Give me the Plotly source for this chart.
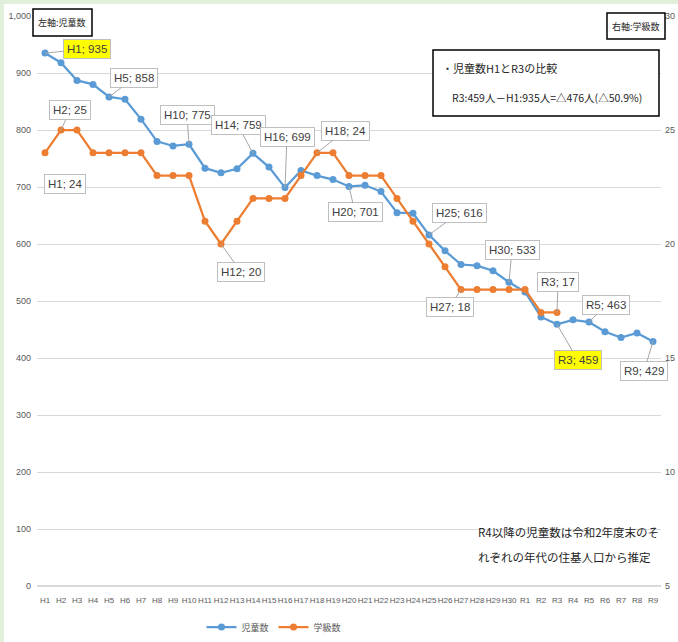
import plotly.graph_objects as go

# %% data
years = [f"H{i}" for i in range(1, 31)] + [f"R{i}" for i in range(1, 10)]

jido = [935, 918, 887, 880, 858, 854, 819, 780, 772, 775,
        733, 725, 732, 759, 735, 699, 729, 720, 713, 701,
        703, 692, 655, 654, 616, 588, 564, 562, 553, 533,
        516, 472, 459, 467, 463, 446, 436, 444, 429]

gakkyu = [24, 25, 25, 24, 24, 24, 24, 23, 23, 23,
          21, 20, 21, 22, 22, 22, 23, 24, 24, 23,
          23, 23, 22, 21, 20, 19, 18, 18, 18, 18,
          18, 17, 17]

jido_labels = ["H1", "H5", "H10", "H14", "H16", "H20", "H25", "H30", "R3", "R5", "R9"]
gakkyu_labels = ["H1", "H2", "H12", "H18", "H27", "R3"]

BLUE = "#5B9BD5"
ORANGE = "#ED7D31"
GRAY = "#595959"
FONT = "Liberation Sans, Noto Sans CJK JP"
JP = "Noto Sans CJK JP"

# plot area in pixels (for placing boxes)
L, R, T, B = 37, 661, 16, 586
def px(x):
    return (x - L) / (R - L)
def py(y):
    return (B - y) / (B - T)

fig = go.Figure()
fig.add_trace(go.Scatter(x=years, y=jido, name="児童数", mode="lines+markers",
                         line=dict(color=BLUE, width=2.25), marker=dict(size=7, color=BLUE)))
fig.add_trace(go.Scatter(x=years[:len(gakkyu)], y=gakkyu, name="学級数", mode="lines+markers",
                         yaxis="y2", line=dict(color=ORANGE, width=2.25),
                         marker=dict(size=7, color=ORANGE)))

# callout offsets (pixels) for the data labels
offs_j = {"H1": (42, -4), "H5": (25, -19), "H10": (-2, -29), "H14": (-15, -28),
          "H16": (2, -51), "H20": (6, 26), "H25": (30, -22), "H30": (3, -32),
          "R3": (21, 36), "R5": (17, -17), "R9": (-9, 30)}
offs_g = {"H1": (20, 31), "H2": (9, -20), "H12": (20, 28), "H18": (28, -22),
          "H27": (-11, 17), "R3": (1, -30)}
yellow = {"H1", "R3"}

ann = []
for k in jido_labels:
    v = jido[years.index(k)]
    ax, ay = offs_j[k]
    ann.append(dict(x=k, y=v, xref="x", yref="y", text=f"{k}; {v}", ax=ax, ay=ay,
                    showarrow=True, arrowhead=0, arrowwidth=1, arrowcolor="#a6a6a6",
                    bgcolor="#FFFF00" if k in yellow else "white",
                    bordercolor="#bfbfbf", borderwidth=1, borderpad=3,
                    font=dict(family=FONT, size=11.5, color="#404040")))
for k in gakkyu_labels:
    v = gakkyu[years.index(k)]
    ax, ay = offs_g[k]
    ann.append(dict(x=k, y=v, xref="x", yref="y2", text=f"{k}; {v}", ax=ax, ay=ay,
                    showarrow=True, arrowhead=0, arrowwidth=1, arrowcolor="#a6a6a6",
                    bgcolor="white", bordercolor="#bfbfbf", borderwidth=1, borderpad=3,
                    font=dict(family=FONT, size=11.5, color="#404040")))

# text boxes
def txt(x, y, s, size, anchor="left"):
    ann.append(dict(x=px(x), y=py(y), xref="paper", yref="paper", text=s, showarrow=False,
                    xanchor=anchor, yanchor="middle", font=dict(family=JP, size=size, color="#262626")))

txt(62, 22, "左軸:児童数", 9, "center")
txt(636, 26, "右軸:学級数", 9, "center")
txt(440, 68, "・児童数H1とR3の比較", 11)
txt(450, 97, "R3:459人－H1:935人=△476人(△50.9%)", 10.5)
txt(476, 532, "R4以降の児童数は令和2年度末のそ", 11.5)
txt(476, 557, "れぞれの年代の住基人口から推定", 11.5)

shapes = [
    dict(type="rect", xref="paper", yref="paper", x0=px(4), x1=px(680), y0=py(645), y1=py(4),
         fillcolor="white", line_width=0, layer="below"),
    dict(type="rect", xref="paper", yref="paper", x0=px(33), x1=px(92), y0=py(36), y1=py(9),
         line=dict(color="black", width=1.5), fillcolor="white"),
    dict(type="rect", xref="paper", yref="paper", x0=px(607), x1=px(665), y0=py(39), y1=py(13),
         line=dict(color="black", width=1.5), fillcolor="white"),
    dict(type="rect", xref="paper", yref="paper", x0=px(433), x1=px(659), y0=py(116), y1=py(50),
         line=dict(color="black", width=1.5), fillcolor="white"),
]

fig.update_layout(
    width=678, height=642,
    margin=dict(l=L, r=678 - R, t=T, b=642 - B, autoexpand=False),
    paper_bgcolor="#E2EFDA", plot_bgcolor="rgba(0,0,0,0)",
    showlegend=True,
    legend=dict(orientation="h", x=px(274), xanchor="center", y=py(627), yanchor="middle",
                font=dict(family=JP, size=9, color=GRAY), itemwidth=30, bgcolor="rgba(0,0,0,0)"),
    xaxis=dict(type="category", categoryorder="array", categoryarray=years,
               range=[-0.5, len(years) - 0.5], showgrid=False, zeroline=False, tickangle=0,
               tickfont=dict(family=FONT, size=8, color=GRAY), ticklabelstandoff=8,
               automargin=False),
    yaxis=dict(range=[0, 1000], dtick=100, tickformat=",", gridcolor="#d9d9d9",
               zeroline=True, zerolinecolor="#d9d9d9", showline=False,
               tickfont=dict(family=FONT, size=9, color=GRAY), ticklabelstandoff=5,
               automargin=False),
    yaxis2=dict(range=[5, 30], dtick=5, overlaying="y", side="right", showgrid=False,
                zeroline=False, tickfont=dict(family=FONT, size=9, color=GRAY),
                ticklabelstandoff=3, automargin=False),
    annotations=ann,
    shapes=shapes,
)

fig.write_html("out.html", config={"displayModeBar": False},
               post_script="document.body.style.margin='0';")
